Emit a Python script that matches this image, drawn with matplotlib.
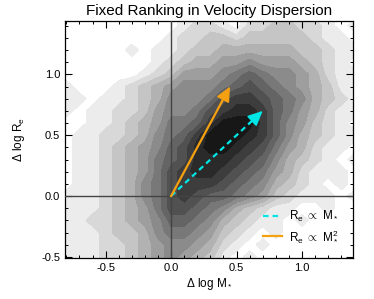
import matplotlib
matplotlib.use('Agg')
import matplotlib.pyplot as plt
import numpy as np

plt.rcParams['font.family'] = ['Liberation Sans', 'DejaVu Sans']
plt.rcParams['mathtext.fontset'] = 'custom'
plt.rcParams['mathtext.rm'] = 'Liberation Sans'
plt.rcParams['mathtext.it'] = 'Liberation Sans:italic'
plt.rcParams['mathtext.sf'] = 'Liberation Sans'

# grid of the 2D histogram (delta log M*, delta log Re)
dlogm = np.linspace(-0.8, 1.4, 23)
dlogr = np.linspace(1.5, -0.6, 22)

# contour level (0 = empty .. 12 = densest), top row first
density = [
    [0,0,0,0,0,0,0,0, 0, 1,1,1,0,0, 1,1,2,2,2,1,1,0,0],
    [0,0,0,0,0,0,0,0, 0, 1,2,2,1,0, 2,2,3,3,2,2,1,0,1],
    [0,0,0,0,0,0,0,0, 1, 2,2,3,3,2, 3,3,3,3,3,2,1,1,0],
    [0,0,0,0,0,1,0,1, 1, 2,3,3,4,4, 4,4,4,4,3,3,2,1,1],
    [0,0,0,0,0,0,0,1, 2, 3,4,4,5,5, 6,5,5,5,4,3,2,1,0],
    [0,0,0,0,0,0,1,2, 3, 5,5,5,6,7, 8,7,6,6,5,4,2,1,1],
    [1,0,0,0,1,2,3,4, 5, 6,6,6,7,8, 9,8,7,6,5,4,3,1,1],
    [1,1,0,1,1,2,3,4, 6, 6,6,7,9,10, 10,9,8,7,6,4,3,2,1],
    [1,0,1,1,2,2,3,5, 6, 6,7,9,10,11, 11,10,8,7,5,4,2,1,1],
    [0,0,1,1,2,3,4,5, 7, 7,8,10,12,12, 12,10,8,6,5,3,2,1,0],
    [0,1,1,2,2,3,4,6, 7, 8,10,12,12,12, 11,10,8,6,4,3,2,1,1],
    [0,1,1,2,3,4,5,6, 8, 9,11,12,12,11, 10,9,7,5,4,2,1,1,0],
    [0,1,1,2,3,4,5,7, 8, 9,11,11,11,10, 9,8,6,4,3,2,1,0,1],
    [0,1,1,2,3,4,5,7, 9, 10,11,11,10,9, 8,7,5,4,2,1,1,1,0],
    [0,1,1,2,3,4,6,7, 9, 10,10,10,9,8, 7,6,4,3,2,1,0,1,0],
    [1,1,1,2,3,4,6,7, 9, 10,9,8,8,7, 6,5,3,2,1,1,1,0,1],
    [1,1,1,2,3,4,5,7, 9, 9,8,7,6,4, 3,2,1,1,0,0,1,0,0],
    [1,1,2,2,3,4,5,6, 8, 8,7,6,4,3, 2,1,1,0,1,0,0,0,0],
    [1,1,1,2,3,3,4,6, 7, 7,6,5,3,2, 1,0,1,0,0,0,0,0,0],
    [1,1,1,2,2,3,4,5, 6, 6,5,4,2,1, 0,1,0,0,0,0,0,0,0],
    [1,1,1,2,2,3,4,5, 6, 5,4,3,1,0, 1,0,0,0,0,0,0,0,0],
    [1,1,1,1,2,3,3,4, 5, 4,3,2,1,0, 0,0,0,0,0,0,0,0,0],
]

# arrow tips: Re ~ M* and Re ~ M*^2
tip_m = [0.7, 0.45]
tip_r = [0.7, 0.9]
arrow_colors = ['#00e5e5', '#f5a010']
arrow_styles = [(0, (2.5, 1.8)), '-']
arrow_labels = [r'R$_\mathrm{e}$ $\propto$ M$_*$', r'R$_\mathrm{e}$ $\propto$ M$_*^2$']

grays = [str(round(0.925 - 0.076 * k, 3)) for k in range(12)]

fig = plt.figure(figsize=(3.74, 2.99), dpi=100)
ax = fig.add_axes([0.174, 0.137, 0.77, 0.793])

X, Y = np.meshgrid(dlogm, dlogr)
ax.contourf(X, Y, np.array(density), levels=np.arange(0.5, 13, 1), colors=grays)

ax.axhline(0, color='#444444', lw=1.0, zorder=3)
ax.axvline(0, color='#444444', lw=1.0, zorder=3)

for mx, rx, c, ls, lab in zip(tip_m, tip_r, arrow_colors, arrow_styles, arrow_labels):
    ax.plot([0, mx * 0.88], [0, rx * 0.88], color=c, ls=ls, lw=1.6, label=lab, zorder=4)
    ax.annotate('', xy=(mx, rx), xytext=(mx * 0.85, rx * 0.85),
                arrowprops=dict(arrowstyle='-|>,head_length=0.75,head_width=0.35',
                                color=c, lw=1.2, shrinkA=0, shrinkB=0,
                                mutation_scale=12), zorder=5)

ax.set_xlim(-0.81, 1.39)
ax.set_ylim(-0.51, 1.44)
ax.set_xticks([-0.5, 0.0, 0.5, 1.0])
ax.set_yticks([-0.5, 0.0, 0.5, 1.0])
ax.set_xticks(np.arange(-0.8, 1.4, 0.1), minor=True)
ax.set_yticks(np.arange(-0.5, 1.45, 0.1), minor=True)
ax.tick_params(which='both', direction='in', top=True, right=True, labelsize=8)
ax.tick_params(which='major', length=5, width=0.8)
ax.tick_params(which='minor', length=2.5, width=0.7)
ax.xaxis.set_major_formatter(matplotlib.ticker.FormatStrFormatter('%.1f'))
ax.yaxis.set_major_formatter(matplotlib.ticker.FormatStrFormatter('%.1f'))
for s in ax.spines.values():
    s.set_linewidth(0.9)

ax.set_xlabel(r'$\Delta$ log M$_*$', fontsize=8.5, labelpad=2)
ax.set_ylabel(r'$\Delta$ log R$_\mathrm{e}$', fontsize=8.5, labelpad=10)
ax.set_title('Fixed Ranking in Velocity Dispersion', fontsize=11, pad=4)

ax.legend(loc='lower right', frameon=False, fontsize=8.5, handlelength=1.6,
          handletextpad=0.6, borderaxespad=0.8, labelspacing=0.35)

fig.savefig('out.png', dpi=100)
